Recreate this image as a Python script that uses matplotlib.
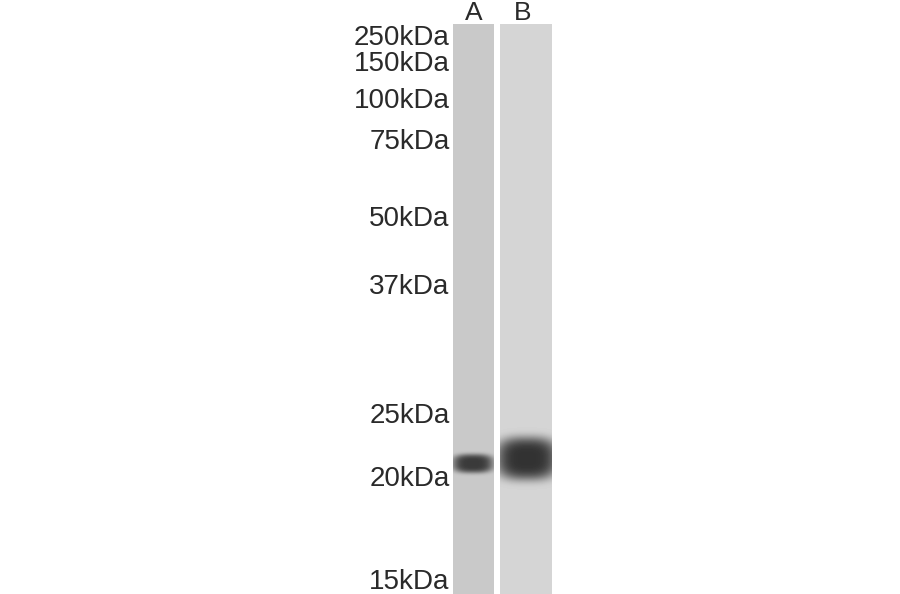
import numpy as np
import matplotlib
matplotlib.use("Agg")
import matplotlib.pyplot as plt

marker_labels = ["250kDa", "150kDa", "100kDa", "75kDa", "50kDa", "37kDa", "25kDa", "20kDa", "15kDa"]
marker_y = [45, 71, 108, 149, 226, 294, 423, 486, 589]
lane_names = ["A", "B"]
lane_label_x = [474, 523]
lane_left = [453, 500]
lane_right = [494, 552]
lane_grey = [201, 213]
band_x = [473, 527]
band_y = [463.5, 458.5]
band_halfwidth = [20.5, 31]
band_halfheight = [9.5, 21.5]
band_grey = [58, 50]

fig = plt.figure(figsize=(9, 5.94), dpi=100, facecolor="white")
ax = fig.add_axes([0, 0, 1, 1])

for i in range(2):
    xs = np.arange(lane_left[i], lane_right[i]) + 0.5
    ys = np.arange(24, 594) + 0.5
    X, Y = np.meshgrid(xs, ys)
    r = (np.abs(X - band_x[i]) / band_halfwidth[i]) ** 2.8 + (np.abs(Y - band_y[i]) / band_halfheight[i]) ** 2.8
    w = np.exp(-np.clip(r, 0, 50) ** 1.6)
    img = lane_grey[i] + (band_grey[i] - lane_grey[i]) * w
    ax.imshow(img, cmap="gray", vmin=0, vmax=255, interpolation="bilinear", aspect="auto",
              extent=(lane_left[i], lane_right[i], 594, 24), zorder=1)

ax.set_xlim(0, 900)
ax.set_ylim(594, 0)
ax.axis("off")

font = ["Liberation Sans", "DejaVu Sans"]
for label, y in zip(marker_labels, marker_y):
    ax.text(449.5, y, label, ha="right", va="baseline", fontsize=20, color="#2a2a2a", family=font, zorder=3)
for label, x in zip(lane_names, lane_label_x):
    ax.text(x, 20.5, label, ha="center", va="baseline", fontsize=19, color="#2a2a2a", family=font, zorder=3)

fig.savefig("out.png", dpi=100, facecolor="white")
